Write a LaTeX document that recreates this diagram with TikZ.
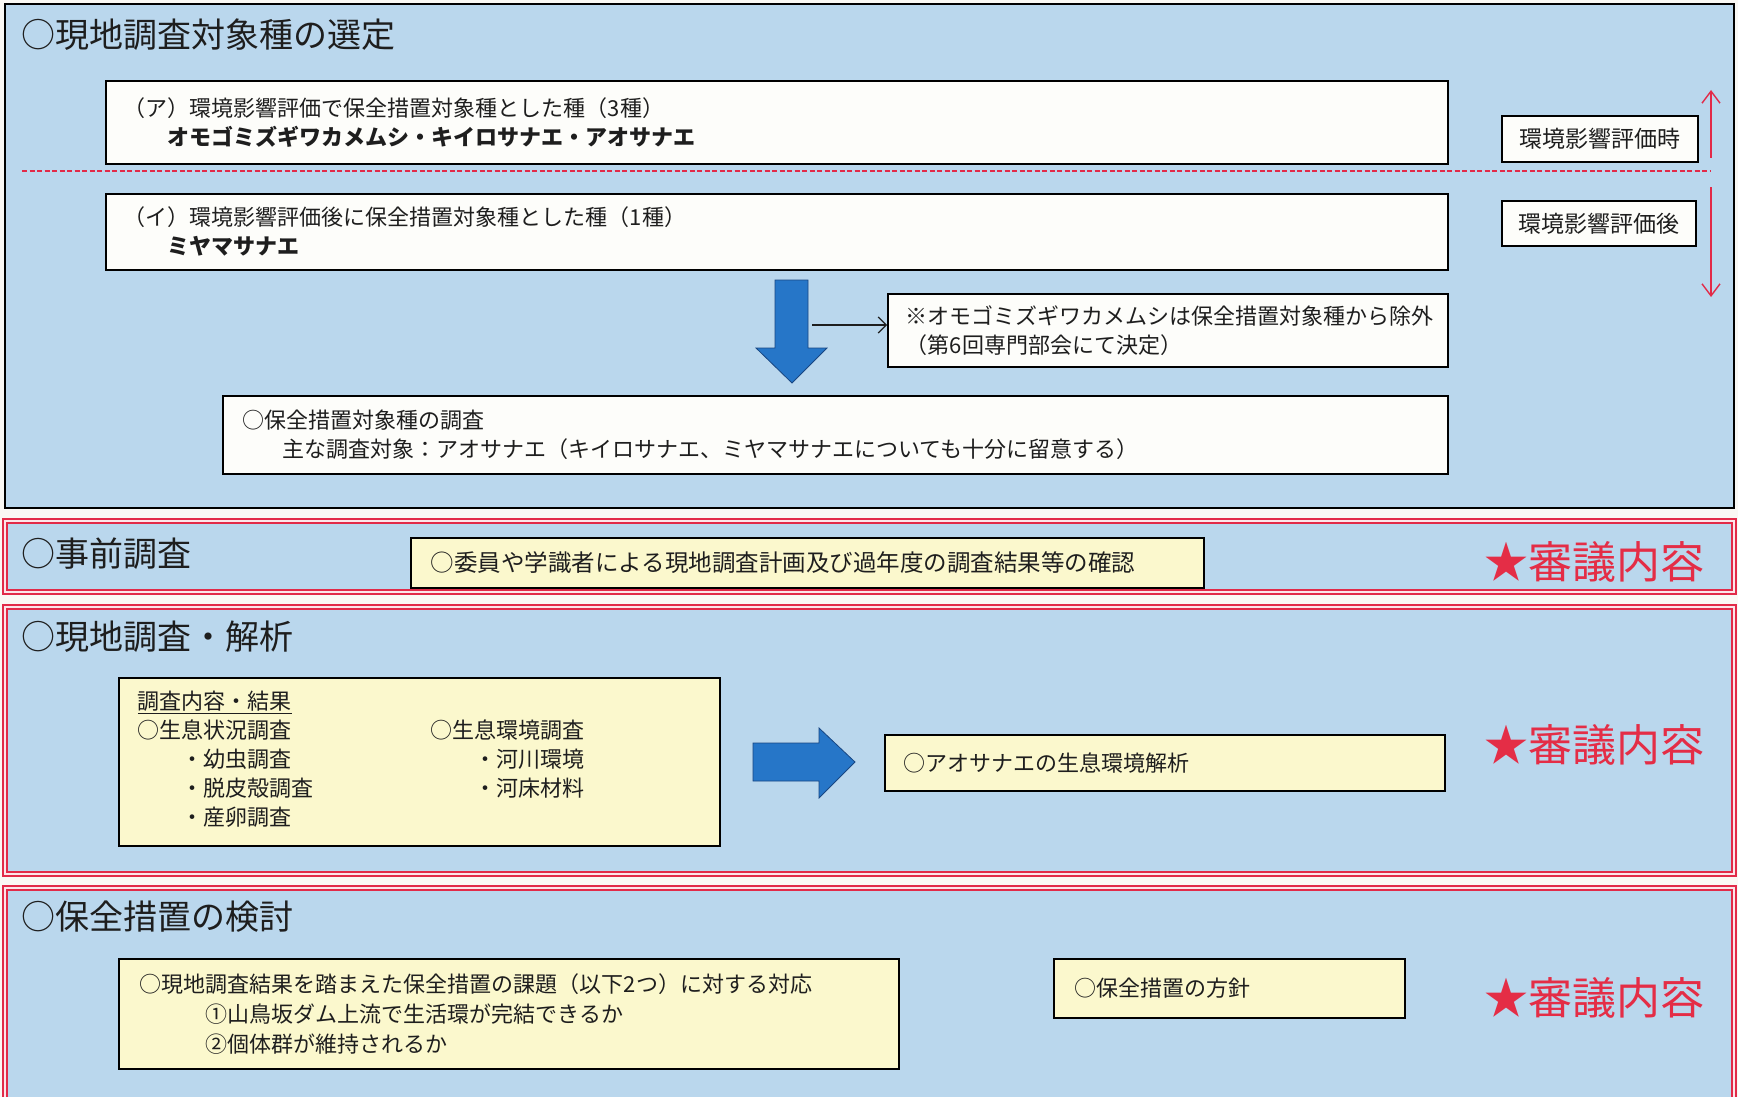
\documentclass[tikz,border=0pt]{standalone}
\usepackage{fontspec}
\setmainfont{Noto Sans CJK JP}
\usetikzlibrary{arrows.meta}

\begin{document}
\begin{tikzpicture}[x=1pt, y=-1pt,
    txtbox/.style={draw=black, line width=1.6pt, fill=boxwhite, anchor=north west,
      align=left, inner xsep=18pt, inner ysep=0pt, text=ink, font=\fontsize{22}{29}\selectfont},
    yellowbox/.style={txtbox, fill=boxyellow},
    evaltag/.style={txtbox, align=center, inner xsep=0pt, font=\fontsize{23}{28}\selectfont},
    heading/.style={anchor=west, inner sep=0pt, text=ink, font=\fontsize{34}{40}\selectfont},
    review/.style={anchor=east, inner sep=0pt, text=reviewred, font=\fontsize{44}{50}\selectfont},
    redframe/.style={fill=panelblue, draw=framered, line width=1.5pt, double=framered!12, double distance=2.2pt},
    blockarrow/.style={fill=arrowblue, draw=arrowedge, line width=0.8pt, line join=miter},
    evalarrow/.style={framered, line width=1.4pt, -{Straight Barb[length=12pt, width=18pt]}}
  ]

  % Define custom colors
  \definecolor{pagebg}{RGB}{250,248,244}
  \definecolor{panelblue}{RGB}{186,215,237}
  \definecolor{boxwhite}{RGB}{253,253,250}
  \definecolor{boxyellow}{RGB}{251,248,205}
  \definecolor{framered}{RGB}{226,42,72}
  \definecolor{reviewred}{RGB}{228,45,70}
  \definecolor{arrowblue}{RGB}{38,118,200}
  \definecolor{arrowedge}{RGB}{24,70,130}
  \definecolor{ink}{RGB}{30,30,30}

  \useasboundingbox (0,0) rectangle (1738,1097);
  \clip (0,0) rectangle (1738,1097);
  \fill[pagebg] (0,0) rectangle (1738,1097);

  % Selection of target species
  \draw[fill=panelblue, draw=black, line width=1.6pt] (5,4) rectangle (1734,508);
  \node[heading] (selTitle) at (21,35) {○現地調査対象種の選定};
  \node[txtbox, text width=1306pt, minimum height=83pt] (boxA) at (105,80)
    {（ア）環境影響評価で保全措置対象種とした種（3種）\\\hspace*{2em}\bfseries オモゴミズギワカメムシ・キイロサナエ・アオサナエ};
  % Divider
  \draw[framered, line width=1.5pt, dash pattern=on 5pt off 2.5pt] (22,171) -- (1710,171);
  \node[txtbox, text width=1306pt, minimum height=76pt] (boxB) at (105,193)
    {（イ）環境影響評価後に保全措置対象種とした種（1種）\\\hspace*{2em}\bfseries ミヤマサナエ};
  \node[evaltag, text width=196pt, minimum height=46pt] (tagAt) at (1501,115) {環境影響評価時};
  \node[evaltag, text width=194pt, minimum height=45pt] (tagAfter) at (1501,200) {環境影響評価後};
  % Time arrows
  \coordinate (splitUp) at (1711,158);
  \coordinate (splitTop) at (1711,90);
  \coordinate (splitDown) at (1711,187);
  \coordinate (splitBot) at (1711,297);
  \draw[evalarrow] (splitUp) -- (splitTop);
  \draw[evalarrow] (splitDown) -- (splitBot);
  % Down arrow
  \draw[blockarrow] (775,280) -- (808,280) -- (808,348) -- (827,348) -- (792,383) -- (756,348) -- (775,348) -- cycle;
  \coordinate (shaftR) at (812,325);
  \node[txtbox, text width=524pt, minimum height=73pt] (noteBox) at (887,293)
    {※オモゴミズギワカメムシは保全措置対象種から除外\\（第6回専門部会にて決定）};
  \draw[ink, line width=1.2pt, -{Straight Barb[length=8pt, width=16pt]}] (shaftR) -- (shaftR -| noteBox.west);
  \node[txtbox, text width=1185pt, inner xsep=20pt, minimum height=78pt] (surveyBox) at (222,395)
    {○保全措置対象種の調査\\\hspace*{1.8em}主な調査対象：アオサナエ（キイロサナエ、ミヤマサナエについても十分に留意する）};

  % Prior survey
  \draw[redframe] (5,521) rectangle (1734,592);
  \node[heading] (priorTitle) at (21,554) {○事前調査};
  \node[yellowbox, text width=753pt, inner xsep=20pt, minimum height=50pt, font=\fontsize{23.5}{29}\selectfont] (priorBox) at (410,537)
    {○委員や学識者による現地調査計画及び過年度の調査結果等の確認};
  \node[review] (priorReview) at (1705,562) {★審議内容};

  % Field survey and analysis
  \draw[redframe] (5,607) rectangle (1734,874);
  \node[heading] (fieldTitle) at (21,637) {○現地調査・解析};
  \node[yellowbox, text width=563pt, inner xsep=19pt, minimum height=168pt] (fieldBox) at (118,677) {%
    \begin{tabular}{@{}p{293pt}@{}l@{}}
      \underline{調査内容・結果} & \\
      ○生息状況調査 & ○生息環境調査\\
      \hspace*{2em}・幼虫調査 & \hspace*{2em}・河川環境\\
      \hspace*{2em}・脱皮殻調査 & \hspace*{2em}・河床材料\\
      \hspace*{2em}・産卵調査 &
    \end{tabular}};
  \draw[blockarrow] (753,743) -- (819,743) -- (819,728) -- (855,762) -- (819,798) -- (819,781) -- (753,781) -- cycle;
  \node[yellowbox, text width=522pt, inner xsep=19pt, minimum height=56pt] (analysisBox) at (884,734)
    {○アオサナエの生息環境解析};
  \node[review] (fieldReview) at (1705,745) {★審議内容};

  % Conservation measures
  \draw[redframe] (5,888) rectangle (1734,1110);
  \node[heading] (measTitle) at (21,917) {○保全措置の検討};
  \node[yellowbox, text width=738pt, inner xsep=21pt, minimum height=110pt, font=\fontsize{22}{30}\selectfont] (issueBox) at (118,958)
    {○現地調査結果を踏まえた保全措置の課題（以下2つ）に対する対応\\\hspace*{3em}①山鳥坂ダム上流で生活環が完結できるか\\\hspace*{3em}②個体群が維持されるか};
  \node[yellowbox, text width=309pt, inner xsep=21pt, minimum height=59pt] (policyBox) at (1053,958)
    {○保全措置の方針};
  \node[review] (measReview) at (1705,998) {★審議内容};

\end{tikzpicture}
\end{document}
